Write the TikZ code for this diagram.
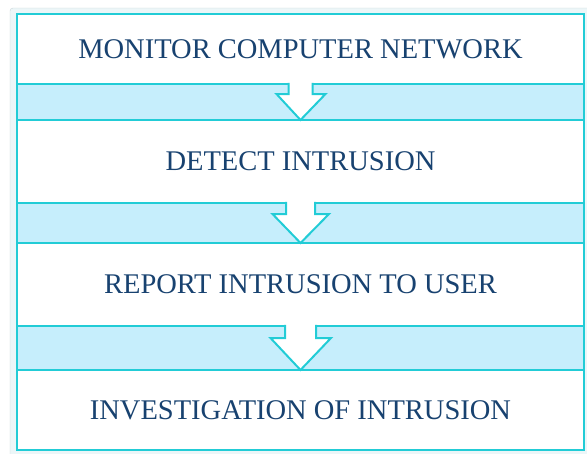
\documentclass[tikz,border=0pt]{standalone}
\usepackage{fontspec}
\setmainfont{Liberation Serif}
\usepackage{tikz}
\usetikzlibrary{positioning,calc}

\definecolor{boxline}{RGB}{34,204,214}
\definecolor{bandfill}{RGB}{198,238,252}
\definecolor{textblue}{RGB}{24,66,112}
\definecolor{framegrey}{RGB}{200,212,216}
\definecolor{framefill}{RGB}{236,246,248}

\tikzstyle{stepbox} = [draw=boxline,line width=2pt,fill=white,minimum width=567pt,inner sep=0pt,outer sep=0pt,text=textblue,font=\fontsize{28.5}{30}\selectfont]
\tikzstyle{band} = [draw=boxline,line width=2pt,fill=bandfill]
\tikzstyle{blockarrow} = [draw=boxline,line width=2pt,fill=white,line join=miter]

\begin{document}
\begin{tikzpicture}[x=1pt,y=-1pt]
	\useasboundingbox (0,0) rectangle (587,453);
	
	%Frame
	\draw[framegrey,fill=framefill,rounded corners=3pt] (10,8) rectangle (600,470);
	
	%Nodes
	\node [stepbox,minimum height=70pt] (monitor) at (300.5,49) {MONITOR COMPUTER NETWORK};
	\node [stepbox,minimum height=83pt,below=36pt of monitor] (detect) {DETECT INTRUSION};
	\node [stepbox,minimum height=83pt,below=40pt of detect] (report) {REPORT INTRUSION TO USER};
	\node [stepbox,minimum height=80pt,below=44pt of report] (investigate) {INVESTIGATION OF INTRUSION};
	
	%Bands
	\filldraw[band] (monitor.south west) rectangle (detect.north east);
	\filldraw[band] (detect.south west) rectangle (report.north east);
	\filldraw[band] (report.south west) rectangle (investigate.north east);
	
	%Arrows
	\filldraw[blockarrow] ($(monitor.south)+(-12,-1.2)$) -- ++(0,11.2) -- ++(-12,0) -- (detect.north) -- ($(monitor.south)+(25,10)$) -- ++(-13,0) -- ++(0,-11.2);
	\filldraw[blockarrow] ($(detect.south)+(-14.5,-1.2)$) -- ++(0,12.2) -- ++(-13.5,0) -- (report.north) -- ($(detect.south)+(28.5,11)$) -- ++(-14,0) -- ++(0,-12.2);
	\filldraw[blockarrow] ($(report.south)+(-15.5,-1.2)$) -- ++(0,13.2) -- ++(-14.5,0) -- (investigate.north) -- ($(report.south)+(30.5,12)$) -- ++(-15,0) -- ++(0,-13.2);
\end{tikzpicture}
\end{document}
